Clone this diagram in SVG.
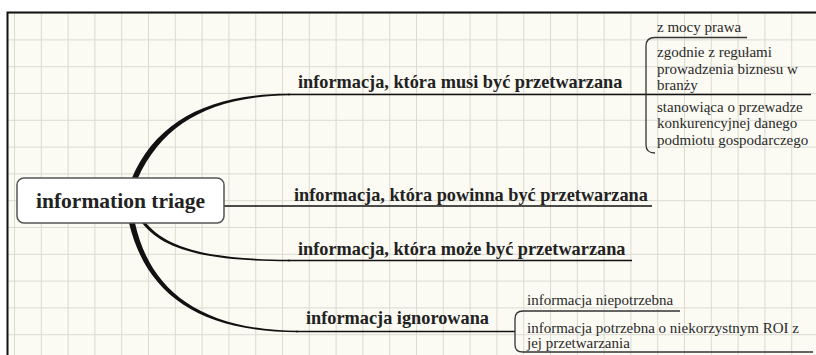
<svg xmlns="http://www.w3.org/2000/svg" width="816" height="355" viewBox="0 0 816 355">
  <defs>
    <pattern id="grid" patternUnits="userSpaceOnUse" x="14" y="12.6" width="26.8" height="26.8">
      <rect width="26.8" height="26.8" fill="#fbfaf3"/>
      <path d="M0.5,0 V26.8 M0,0.5 H26.8" stroke="#dcdbd2" stroke-width="1" fill="none"/>
    </pattern>
    <style>
      text { font-family: 'Liberation Serif', 'DejaVu Serif', serif; }
      .main { font-weight: bold; font-size: 21.5px; fill: #222; }
      .branch { font-weight: bold; font-size: 18.3px; fill: #222; }
      .leaf { font-size: 15px; fill: #2a2a2a; }
      .line { stroke: #111; stroke-width: 1.5; fill: none; }
      .bracket { stroke: #333; stroke-width: 1.3; fill: none; }
      .taper { fill: #111; stroke: none; }
    </style>
  </defs>

  <rect x="0" y="0" width="816" height="355" fill="#ffffff"/>
  <rect x="7" y="12" width="809" height="343" fill="url(#grid)"/>
  <path d="M7.5,355 V12.5 H816" stroke="#111" stroke-width="2" fill="none"/>

  <g id="connectors">
    <path class="taper" d="M131.5,179 C156,121 209,93.5 290,93.8 L290,95.2 C211,96.5 163,123 137.5,179 Z"/>
    <path class="line" d="M224,206 H652"/>
    <path class="taper" d="M142,223 C164,251 209,261.2 290,261.2 L290,259.8 C211,259 168,249.5 146,223 Z"/>
    <path class="taper" d="M129,223 C146,294 199,332.2 298,332.2 L298,330.8 C201,330 150,291 135,223 Z"/>
    <path class="line" d="M288,94.5 H811"/>
    <path class="line" d="M288,260.5 H632"/>
    <path class="line" d="M296,331.5 H515"/>
    <path class="bracket" d="M655,37.5 H747 M655,37.5 Q646,37.5 646,46 V145 Q646,153 655,153"/>
    <path class="bracket" d="M523,311 H680 M523,311 Q515,311 515,319 V345 Q515,352 523,352 H813"/>
  </g>

  <g id="node-main">
    <rect x="17" y="178" width="207" height="45" rx="7" ry="7" fill="#ffffff" stroke="#555" stroke-width="1.5"/>
    <text class="main" x="120.5" y="207.5" text-anchor="middle" font-family="Liberation Serif, serif">information triage</text>
  </g>

  <g id="node-musi">
    <text class="branch" x="298" y="88">informacja, która musi być przetwarzana</text>
  </g>
  <g id="node-musi-1">
    <text class="leaf" x="657" y="32">z mocy prawa</text>
  </g>
  <g id="node-musi-2">
    <text class="leaf" x="657" y="57">zgodnie z regułami</text>
    <text class="leaf" x="657" y="74">prowadzenia biznesu w</text>
    <text class="leaf" x="657" y="90">branży</text>
  </g>
  <g id="node-musi-3">
    <text class="leaf" x="657" y="112">stanowiąca o przewadze</text>
    <text class="leaf" x="657" y="128">konkurencyjnej danego</text>
    <text class="leaf" x="657" y="144.5">podmiotu gospodarczego</text>
  </g>

  <g id="node-powinna">
    <text class="branch" x="294" y="201">informacja, która powinna być przetwarzana</text>
  </g>

  <g id="node-moze">
    <text class="branch" x="298" y="255">informacja, która może być przetwarzana</text>
  </g>

  <g id="node-ignorowana">
    <text class="branch" x="306" y="324">informacja ignorowana</text>
  </g>
  <g id="node-ign-1">
    <text class="leaf" x="527" y="305">informacja niepotrzebna</text>
  </g>
  <g id="node-ign-2">
    <text class="leaf" x="527" y="333">informacja potrzebna o niekorzystnym ROI z</text>
    <text class="leaf" x="527" y="348">jej przetwarzania</text>
  </g>
</svg>
